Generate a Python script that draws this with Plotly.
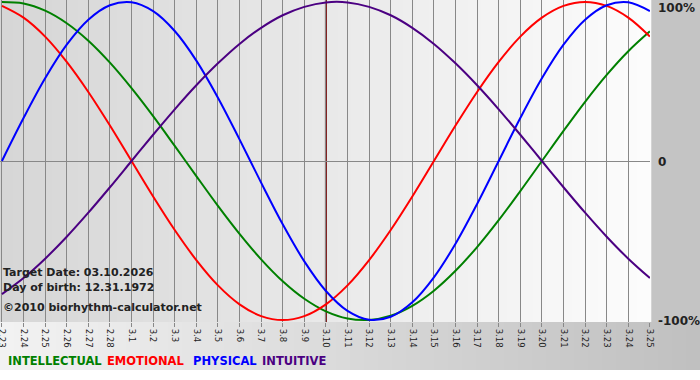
import plotly.graph_objects as go

# ---- data ----
days = ["2.23", "2.24", "2.25", "2.26", "2.27", "2.28", "3.1", "3.2", "3.3", "3.4",
        "3.5", "3.6", "3.7", "3.8", "3.9", "3.10", "3.11", "3.12", "3.13", "3.14",
        "3.15", "3.16", "3.17", "3.18", "3.19", "3.20", "3.21", "3.22", "3.23", "3.24", "3.25"]

intellectual = [0.999, 0.990, 0.945, 0.866, 0.756, 0.618, 0.458, 0.282, 0.095, -0.095,
                -0.282, -0.458, -0.618, -0.756, -0.866, -0.945, -0.990, -0.999, -0.972, -0.910,
                -0.815, -0.690, -0.541, -0.372, -0.189, 0.0, 0.189, 0.372, 0.541, 0.690, 0.815]

emotional = [0.975, 0.901, 0.782, 0.623, 0.434, 0.223, 0.0, -0.223, -0.434, -0.623,
             -0.782, -0.901, -0.975, -1.0, -0.975, -0.901, -0.782, -0.623, -0.434, -0.223,
             0.0, 0.223, 0.434, 0.623, 0.782, 0.901, 0.975, 1.0, 0.975, 0.901, 0.782]

physical = [0.0, 0.270, 0.520, 0.731, 0.888, 0.979, 0.998, 0.942, 0.817, 0.631,
            0.398, 0.136, -0.136, -0.398, -0.631, -0.817, -0.942, -0.998, -0.979, -0.888,
            -0.731, -0.520, -0.270, 0.0, 0.270, 0.520, 0.731, 0.888, 0.979, 0.998, 0.942]

intuitive = [-0.837, -0.736, -0.614, -0.476, -0.325, -0.165, 0.0, 0.165, 0.325, 0.476,
             0.614, 0.736, 0.837, 0.916, 0.969, 0.997, 0.997, 0.969, 0.916, 0.837,
             0.736, 0.614, 0.476, 0.325, 0.165, 0.0, -0.165, -0.325, -0.476, -0.614, -0.736]

series_names = ["INTELLECTUAL", "EMOTIONAL", "PHYSICAL", "INTUITIVE"]
series_colors = ["#008000", "#ff0000", "#0000ff", "#4b0082"]
series_values = [intellectual, emotional, physical, intuitive]

target_day = "3.10"
info_lines = ["Target Date: 03.10.2026", "Day of birth: 12.31.1972"]
copyright_text = "\u00a92010 biorhythm-calculator.net"
y_tick_text = ["100%", "0", "-100%"]

# ---- figure ----
W, H = 700, 380
ML, MR, MT, MB = 0, 50, 0, 58
PW, PH = W - ML - MR, H - MT - MB


def px_x(x):
    return (x - ML) / PW


def px_y(y):
    return 1 - (y - MT) / PH


def mix(c1, c2, t):
    r = [round(a + (b - a) * t) for a, b in zip(c1, c2)]
    return "rgb(%d,%d,%d)" % tuple(r)


shapes = []
N = 50
# bottom band gradient (below plot, above white strip)
for i in range(N):
    x0 = W * i / N
    x1 = W * (i + 1) / N + 0.5
    shapes.append(dict(type="rect", xref="paper", yref="paper",
                       x0=px_x(x0), x1=px_x(x1), y0=px_y(370), y1=px_y(PH),
                       fillcolor=mix((242, 242, 242), (192, 192, 192), i / (N - 1)),
                       line=dict(width=0), layer="below"))
# right band
shapes.append(dict(type="rect", xref="paper", yref="paper",
                   x0=1, x1=px_x(W), y0=0, y1=1,
                   fillcolor="rgb(196,196,196)", line=dict(width=0), layer="below"))
# plot area gradient
for i in range(N):
    shapes.append(dict(type="rect", xref="paper", yref="paper",
                       x0=i / N, x1=(i + 1) / N + 0.002, y0=0, y1=1,
                       fillcolor=mix((214, 214, 214), (252, 252, 252), i / (N - 1)),
                       line=dict(width=0), layer="below"))
# target day marker
target_idx = days.index(target_day)
shapes.append(dict(type="line", xref="x", yref="paper", x0=target_idx, x1=target_idx,
                   y0=0, y1=1, line=dict(color="#7a1010", width=2), layer="below"))

fig = go.Figure()
for name, color, vals in zip(series_names, series_colors, series_values):
    fig.add_trace(go.Scatter(x=days, y=vals, name=name, mode="lines",
                             line=dict(color=color, width=2, shape="spline", smoothing=1.0),
                             showlegend=False, hoverinfo="skip"))

annotations = []
txt_font = dict(family="DejaVu Sans", size=11, color="#222222")
for i, t in enumerate(info_lines):
    annotations.append(dict(text="<b>%s</b>" % t, xref="paper", yref="paper",
                            x=px_x(1), y=px_y(272 + 15 * i), xanchor="left", yanchor="middle",
                            showarrow=False, font=txt_font))
annotations.append(dict(text="<b>%s</b>" % copyright_text, xref="paper", yref="paper",
                        x=px_x(1), y=px_y(307), xanchor="left", yanchor="middle",
                        showarrow=False, font=txt_font))
# right-side value labels (top, middle, bottom of the value scale)
label_rows = [8, 162, 321]
for row, t in zip(label_rows, y_tick_text):
    annotations.append(dict(text="<b>%s</b>" % t, xref="paper", yref="paper",
                            x=px_x(656), y=px_y(row),
                            xanchor="left", yanchor="middle", showarrow=False,
                            font=dict(family="DejaVu Sans", size=12, color="#222222")))
# legend row
leg_x = [6, 105, 191, 260]
for name, color, lx in zip(series_names, series_colors, leg_x):
    annotations.append(dict(text="<b>%s</b>" % name, xref="paper", yref="paper",
                            x=px_x(lx), y=px_y(361), xanchor="left", yanchor="middle",
                            showarrow=False,
                            font=dict(family="DejaVu Sans", size=11.5, color=color)))

fig.update_layout(
    width=W, height=H,
    margin=dict(l=ML, r=MR, t=MT, b=MB, pad=0, autoexpand=False),
    paper_bgcolor="white", plot_bgcolor="rgba(0,0,0,0)",
    shapes=shapes, annotations=annotations,
    xaxis=dict(type="category", range=[-0.09, len(days) - 1 + 0.005],
               showgrid=True, gridcolor="#888888", gridwidth=1,
               ticks="outside", ticklen=4, tickcolor="#888888", tickwidth=1,
               tickangle=90, tickfont=dict(family="DejaVu Sans", size=8.5, color="#222222"),
               showline=False, zeroline=False, fixedrange=True, automargin=False),
    yaxis=dict(range=[-1.012, 1.012], showgrid=False, zeroline=True,
               zerolinecolor="#888888", zerolinewidth=1, showticklabels=False,
               ticks="", showline=False, fixedrange=True, automargin=False),
)

fig.write_html("out.html", config={"displayModeBar": False},
               post_script="document.body.style.margin='0';document.body.style.padding='0';")
